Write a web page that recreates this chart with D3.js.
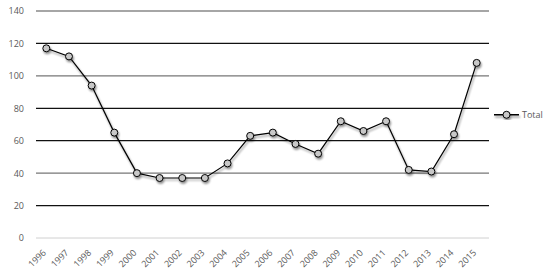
<!DOCTYPE html>
<html>
<head>
<meta charset="utf-8">
<script src="https://cdn.jsdelivr.net/npm/d3@7"></script>
<style>
  body { margin: 0; background: #fff; }
  text { font-family: "Open Sans", sans-serif; }
</style>
</head>
<body>
<div id="chart"></div>
<script>
// Data
const years = ["1996", "1997", "1998", "1999", "2000", "2001", "2002", "2003", "2004", "2005",
               "2006", "2007", "2008", "2009", "2010", "2011", "2012", "2013", "2014", "2015"];
const totals = [117, 112, 94, 65, 40, 37, 37, 37, 46, 63, 65, 58, 52, 72, 66, 72, 42, 41, 64, 108];
const yTicks = [0, 20, 40, 60, 80, 100, 120, 140];
const seriesName = "Total";

// Gridline colours per tick (the source alternates dark and grey lines)
const gridColor = { 0: "#d0d0d0", 20: "#111", 40: "#777", 60: "#111", 80: "#111", 100: "#777", 120: "#111", 140: "#888" };

const W = 548, H = 272;
const margin = { top: 11, right: 59, bottom: 34, left: 36 };
const width = W - margin.left - margin.right;
const height = H - margin.top - margin.bottom;

const svg = d3.select("#chart")
    .append("svg")
    .attr("width", W)
    .attr("height", H)
    .style("display", "block");

// Soft drop shadow under line and markers
const defs = svg.append("defs");
const shadow = defs.append("filter")
    .attr("id", "shadow")
    .attr("x", "-20%").attr("y", "-20%")
    .attr("width", "140%").attr("height", "140%");
shadow.append("feGaussianBlur").attr("in", "SourceAlpha").attr("stdDeviation", 1.2);
shadow.append("feOffset").attr("dx", 1).attr("dy", 1.5).attr("result", "off");
shadow.append("feComponentTransfer").append("feFuncA").attr("type", "linear").attr("slope", 0.45);
const merge = shadow.append("feMerge");
merge.append("feMergeNode");
merge.append("feMergeNode").attr("in", "SourceGraphic");

const g = svg.append("g")
    .attr("transform", `translate(${margin.left},${margin.top})`);

const xScale = d3.scaleBand()
    .domain(years)
    .range([0, width])
    .paddingOuter(0);

const yScale = d3.scaleLinear()
    .domain([0, 140])
    .range([height, 0]);

// Gridlines
g.append("g")
    .selectAll("line")
    .data(yTicks)
    .enter()
    .append("line")
    .attr("x1", 0)
    .attr("x2", width)
    .attr("y1", d => yScale(d))
    .attr("y2", d => yScale(d))
    .attr("stroke", d => gridColor[d])
    .attr("stroke-width", d => d === 0 ? 1 : 1.3);

// Y axis labels
const yAxis = g.append("g")
    .call(d3.axisLeft(yScale).tickValues(yTicks).tickSize(0).tickPadding(12));
yAxis.select(".domain").remove();
yAxis.selectAll("text")
    .attr("fill", "#595959")
    .style("font-size", "9px");

// X axis labels, rotated 45 degrees, ending just left of each point
const xAxis = g.append("g")
    .attr("transform", `translate(0,${height})`)
    .call(d3.axisBottom(xScale).tickSize(0));
xAxis.select(".domain").remove();
xAxis.selectAll("text")
    .attr("fill", "#595959")
    .style("font-size", "9px")
    .attr("text-anchor", "end")
    .attr("x", 0)
    .attr("y", 0)
    .attr("dy", "0.35em")
    .attr("transform", "translate(-3,13) rotate(-45)");

// Line and markers
const cx = (d, i) => xScale(years[i]) + xScale.bandwidth() / 2 - 1;
const line = d3.line()
    .x(cx)
    .y(d => yScale(d));

const series = g.append("g").attr("filter", "url(#shadow)");
series.append("path")
    .datum(totals)
    .attr("d", line)
    .attr("fill", "none")
    .attr("stroke", "#000")
    .attr("stroke-width", 1.2);

series.selectAll("circle")
    .data(totals)
    .enter()
    .append("circle")
    .attr("cx", cx)
    .attr("cy", d => yScale(d))
    .attr("r", 3.5)
    .attr("fill", "#c8c8c8")
    .attr("stroke", "#000")
    .attr("stroke-width", 1);

// Legend
const legend = svg.append("g")
    .attr("transform", `translate(${margin.left + width + 5},${margin.top + yScale(76) })`);
const lg = legend.append("g").attr("filter", "url(#shadow)");
lg.append("line")
    .attr("x1", 0).attr("x2", 25)
    .attr("stroke", "#000").attr("stroke-width", 1.5);
lg.append("circle")
    .attr("cx", 12.5).attr("r", 3.5)
    .attr("fill", "#c8c8c8").attr("stroke", "#000");
legend.append("text")
    .attr("x", 28)
    .attr("dy", "0.35em")
    .attr("fill", "#595959")
    .style("font-size", "9px")
    .text(seriesName);
</script>
</body>
</html>
